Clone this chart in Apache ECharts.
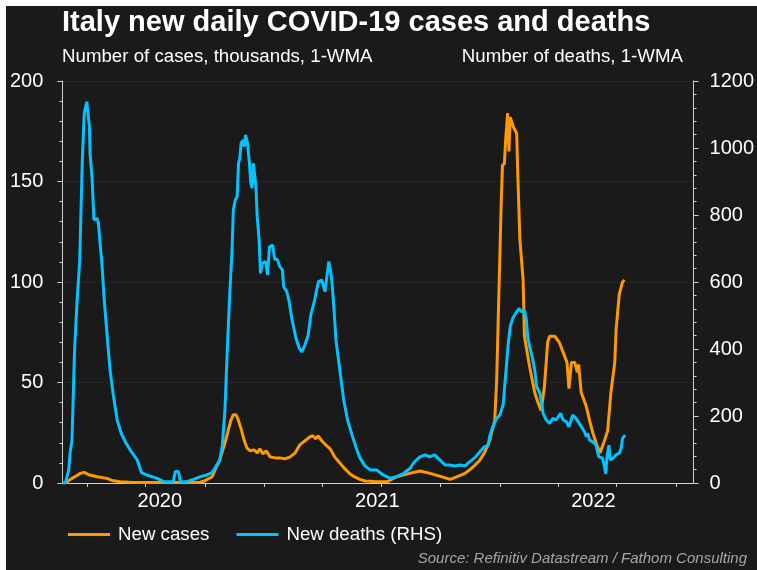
<!DOCTYPE html>
<html>
<head>
<meta charset="utf-8">
<script src="https://cdn.jsdelivr.net/npm/echarts@6/dist/echarts.min.js"></script>
<style>
html,body{margin:0;padding:0;background:#ffffff;}
#chart{width:757px;height:570px;}
</style>
</head>
<body>
<div id="chart"></div>
<script>
// ---- Data (days since 2020-01-01, values) ----
const caseDays = [53,58,62,68,75,81,87,94,107,122,132,143,163,189,220,251,267,274,285,292,297,305,310,314,318,322,325,330,335,339,344,350,355,359,364,369,375,383,390,398,406,414,421,429,437,441,446,449,455,461,468,475,483,491,499,506,514,522,537,556,571,591,607,623,644,654,664,677,690,700,707,715,723,726,728,730,733,735,738,740,743,745,747,750,752,757,759,762,767,769,777,785,790,795,800,805,808,816,823,829,835,838,842,847,851,853,857,865,870,875,880,886,892,898,903,909,911,916,921,924];
const caseValues = [0,0.1,1,2.3,3.6,4.8,5.3,4.1,3.1,2.3,1.1,0.6,0.2,0.2,0.25,0.3,0.4,1.1,3.1,8.1,11.4,20,26,31,34,34,32,27,21,17.5,16,16.5,15,17,14.5,16,13,12.5,12.5,12,13,15,19,21,23,23.5,22,23.5,21,19,17,13,10,7,4.5,3,1.8,1,0.7,0.6,3.1,4.8,6,4.8,2.8,1.8,3.1,4.8,8.1,11.4,15,21,31,51,76,101,139,158,159,171,184,165,182,182,177,174,151,121,101,73,58,45,40,36,48,70,73,73,70,65,60,47,60,60,55,59,45,38,31,25,20,15,20,26,45,60,76,94,100,101];

const deathDays = [53,58,63,65,68,72,76,80,84,87,91,94,95,96,99,102,107,109,112,114,118,123,127,132,138,144,150,158,169,176,184,200,210,225,228,233,236,246,256,267,277,285,291,297,301,305,308,312,316,318,321,324,326,328,330,333,335,337,340,343,345,347,349,351,353,355,358,360,363,368,371,374,376,379,382,386,390,394,396,401,404,409,415,420,424,429,434,438,444,447,450,455,457,460,462,466,468,470,473,477,483,489,495,502,508,514,522,530,540,550,561,571,582,592,597,602,607,615,622,630,638,646,653,661,669,677,684,692,700,707,713,715,720,726,731,736,738,741,744,747,751,757,761,764,769,772,774,777,781,785,788,793,798,803,808,813,818,825,829,834,838,844,849,854,857,862,865,867,870,875,880,884,890,893,895,897,900,902,906,911,916,919,921,925];
const deathValues = [0,1,39,89,128,397,546,665,964,1104,1138,1133,1064,984,914,785,790,775,705,666,546,427,337,263,188,150,125,99,69,30,24,14,4,4,34,34,4,4,11,19,24,31,49,69,113,218,367,546,696,815,845,855,954,969,1014,1024,1004,1039,1014,954,895,880,954,959,885,795,725,626,656,661,621,705,700,710,668,668,646,636,586,571,546,487,433,403,391,412,442,501,546,576,601,606,611,571,601,661,666,616,546,427,337,248,188,143,107,75,51,39,39,24,14,19,29,44,59,69,78,84,78,84,69,54,54,51,54,51,63,75,93,108,113,138,168,193,203,233,278,347,417,467,492,511,521,511,516,487,437,407,377,337,287,268,208,188,178,193,188,208,188,183,168,203,193,178,183,153,138,148,128,123,113,79,74,49,27,79,113,69,74,84,89,104,133,143];

const tickDates = ['2020-04-01','2020-07-01','2020-10-01','2021-01-01','2021-04-01','2021-07-01','2021-10-01','2022-01-01','2022-04-01','2022-07-01','2022-10-01'];
const yearLabelDates = ['2020-07-23','2021-06-25','2022-05-26'];
const casesTicks = [0,50,100,150,200];
const deathsTicks = [0,200,400,600,800,1000,1200];

const axisStart = '2020-02-23';
const axisEnd = '2022-10-28';

// ---- Build ----
const DAY = 86400000;
const base = Date.UTC(2020,0,1);
const toDay = s => { const p = s.split('-'); return Math.round((Date.UTC(+p[0], +p[1]-1, +p[2]) - base)/DAY); };
const dayToYear = d => String(new Date(base + d*DAY).getUTCFullYear());

const casesData = caseDays.map((d,i)=>[d, caseValues[i]]);
const deathsData = deathDays.map((d,i)=>[d, deathValues[i]]);

const FONT = "'Liberation Sans', Arial, sans-serif";
const ORANGE = '#ff9900';
const CYAN = '#00c3ff';
const AXIS = '#cfcfcf';

const chart = echarts.init(document.getElementById('chart'), null, {renderer:'canvas'});
chart.setOption({
  backgroundColor: '#ffffff',
  animation: false,
  textStyle: {fontFamily: FONT},
  graphic: {elements: [
    {type:'rect', z:-100, silent:true, shape:{x:6,y:6,width:751,height:564}, style:{fill:'#1a1a1a'}}
  ]},
  title: [
    {text:'Italy new daily COVID-19 cases and deaths', left:62, top:8, padding:0,
     textStyle:{color:'#ffffff', fontSize:29, fontWeight:'bold', fontFamily:FONT}},
    {text:'Number of cases, thousands, 1-WMA', left:62, top:47, padding:0,
     textStyle:{color:'#ffffff', fontSize:18.7, fontWeight:'normal', fontFamily:FONT}},
    {text:'Number of deaths, 1-WMA', right:74, top:47, padding:0,
     textStyle:{color:'#ffffff', fontSize:18.7, fontWeight:'normal', fontFamily:FONT}},
    {text:'Source: Refinitiv Datastream / Fathom Consulting', right:10, top:551, padding:0,
     textStyle:{color:'#a6a6a6', fontSize:15, fontStyle:'italic', fontWeight:'normal', fontFamily:FONT}}
  ],
  legend: {
    left:68, top:525, padding:0, icon:'rect', itemWidth:42, itemHeight:3, itemGap:27,
    textStyle:{color:'#ffffff', fontSize:18.7, fontFamily:FONT, padding:[0,0,0,3]},
    data:['New cases','New deaths (RHS)']
  },
  grid: {left:62.3, right:62.7, top:81, bottom:87, containLabel:false},
  xAxis: {
    type:'value', min: toDay(axisStart), max: toDay(axisEnd),
    axisLine:{show:true, onZero:false, lineStyle:{color:AXIS, width:1}},
    axisTick:{show:true, length:4, inside:false, customValues: tickDates.map(toDay), lineStyle:{color:AXIS}},
    axisLabel:{show:true, customValues: yearLabelDates.map(toDay), margin:8, color:'#ffffff', fontSize:20, fontFamily:FONT,
      formatter: v => dayToYear(v)},
    splitLine:{show:false}
  },
  yAxis: [
    {type:'value', min:0, max:200, interval:50, position:'left',
     axisLine:{show:true, lineStyle:{color:AXIS, width:1}},
     axisTick:{show:true, length:5, lineStyle:{color:AXIS}},
     minorTick:{show:true, splitNumber:5, length:3, lineStyle:{color:AXIS}},
     axisLabel:{color:'#ffffff', fontSize:20, margin:19, fontFamily:FONT,
       formatter: v => casesTicks.includes(v) ? String(v) : ''},
     splitLine:{show:true, lineStyle:{color:'#303030', type:[2,2], width:1}}
    },
    {type:'value', min:0, max:1200, interval:200, position:'right',
     axisLine:{show:true, lineStyle:{color:AXIS, width:1}},
     axisTick:{show:true, length:5, lineStyle:{color:AXIS}},
     minorTick:{show:true, splitNumber:5, length:3, lineStyle:{color:AXIS}},
     axisLabel:{color:'#ffffff', fontSize:20, margin:16, fontFamily:FONT,
       formatter: v => deathsTicks.includes(v) ? String(v) : ''},
     splitLine:{show:false}
    }
  ],
  series: [
    {name:'New cases', type:'line', yAxisIndex:0, data:casesData, showSymbol:false, symbol:'none',
     lineStyle:{color:ORANGE, width:3}, itemStyle:{color:ORANGE}, z:2},
    {name:'New deaths (RHS)', type:'line', yAxisIndex:1, data:deathsData, showSymbol:false, symbol:'none',
     lineStyle:{color:CYAN, width:3}, itemStyle:{color:CYAN}, z:3}
  ]
});
</script>
</body>
</html>
